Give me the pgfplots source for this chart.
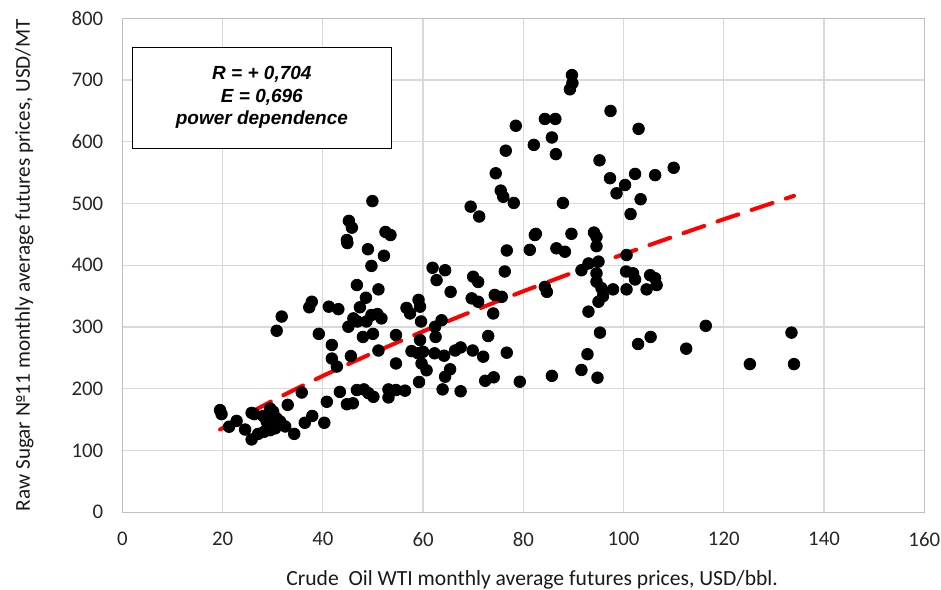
\documentclass[border=0pt]{standalone}
\usepackage{fontspec}
\setmainfont{Carlito}
\newfontfamily\arial{Liberation Sans}
\usepackage{pgfplots}
\pgfplotsset{compat=1.18}
\definecolor{gridgray}{HTML}{D9D9D9}
\definecolor{axgray}{HTML}{BFBFBF}

\begin{document}
\begin{tikzpicture}
\begin{axis}[
    scale only axis,
    width=401pt, height=247pt,
    xmin=0, xmax=160, ymin=0, ymax=800,
    xtick distance=20, ytick distance=100,
    grid=major,
    major grid style={gridgray, line width=0.6pt},
    axis line style={axgray, line width=0.6pt},
    major tick length=0pt,
    tick label style={font=\fontsize{10.4}{12}\selectfont, text=black!85},
    /pgf/number format/assume math mode=true,
    yticklabel style={xshift=-6pt},
    xticklabel style={yshift=-6.5pt},
    label style={text=black!90},
    xlabel={Crude\ \ Oil WTI monthly average futures prices, USD/bbl.},
    ylabel={Raw Sugar №11 monthly average futures prices, USD/MT},
    xlabel style={font=\fontsize{10.8}{12}\selectfont,
                  at={(axis description cs:0.511,-0.137)}, anchor=center},
    ylabel style={font=\fontsize{10.6}{12}\selectfont,
                  at={(axis description cs:-0.122,0.5)}, anchor=center},
]
% monthly points
\addplot[only marks, mark=*, mark size=2.9pt, black] table {
x y
19.5 165.5
19.8 159
21.3 138.6
22.8 148
24.5 134
25.8 118
25.8 161
26.3 159
27.1 127
28.3 130.5
29.5 133
29.5 168
30.1 163
28.1 156
28.8 147
30.8 152
31.5 147
31.8 142
32.5 139
30.5 136
34.3 127
33 174
35.8 194
36.4 145
37.9 156
40.3 145
40.8 179
30.8 294
31.8 317
37.8 341
37.3 332
41.2 333
43.1 329
39.2 289
41.8 271
41.8 249
42.8 236
45.6 253
43.4 195
44.8 175
46 176.5
46.8 198
48.2 199
49.1 193
50.1 187
53.1 199
54.6 198
56.4 197
53.1 186
45.1 300.5
46.1 314
46.9 309
48.7 309
49.7 319.5
50.9 321
51.7 314
47.4 332
48.6 347.5
46.8 368
51.1 361
48 284
50 289
51.1 262
49.9 504
45.2 472
45.8 461
44.8 441
44.9 436
52.5 454
53.5 449
49 426
52.2 415.5
49.7 399
54.6 287
54.6 241
56.7 331
59.1 344
59.4 333
57.4 322
59.6 309
59.4 279
57.7 261
59 257.5
60 260
59.7 241
60.7 230
59.2 211
61.9 396
62.7 376
62.5 284
62.3 257.5
63.9 199
63.7 311
62.4 300.5
64.4 392
65.5 357
64.2 253.6
66.4 262
67.5 267
65.4 231.6
64.4 219.6
67.5 196
70 381.5
71 373
69.7 346.5
71 341
74.3 352
75.7 349
74 322
73 285.5
69.9 262
72 252
76.7 258.5
72.4 213
74.1 218.6
79.3 211.5
76.3 390
76.7 424
81.3 425
82.3 449
89.7 708
89.8 695
89.3 685
84.3 637
86.4 637
78.5 626
85.7 607
82.1 595
86.5 580
76.5 585.6
74.5 549
75.5 521
76 511
78.1 501
87.9 501
69.5 495
71.2 479
82.5 451
89.6 451
94.1 453
94.6 446
94.6 431
95.2 570
97.4 650
103 621
97.3 541
110 558
102.3 548
106.3 546
100.3 530
98.6 516.6
103.4 507
101.4 483
86.6 427.5
88.3 422
93 403
95 406
91.6 392
94.6 387
94.6 373.5
95.6 363
97.9 361
95.9 350
95 341
93 325
100.5 390
101.9 387
102.3 377
100.6 361
100.6 416.7
105.3 384
106.3 379
106.6 368
104.6 361
84.3 365
84.7 357
95.3 291
102.9 272.5
105.4 284
92.8 256
91.6 230.5
94.8 218
85.7 221
112.5 265
116.4 302
125.2 240
133.5 291
134 240
};
% trend line (power)
\addplot[red, line width=2pt, dash pattern=on 11pt off 7pt, line cap=round] table {
x y
19.5 134
25 159.3
30 180.8
35 201.3
40 220.9
45 239.8
50 258
55 275.7
60 293
65 309.7
70 326
75 342.2
80 358
85 373.3
90 388.5
95 403.4
100 418
105 432.4
110 446.6
115 460.7
120 474.6
125 488.2
134 512.5
};
\node[draw=black, line width=0.6pt, fill=white, align=center,
      minimum width=129.7pt, minimum height=50.5pt, inner sep=0pt,
      font=\arial\bfseries\itshape\fontsize{9.5}{11.3}\selectfont]
  at (axis cs:27.85,671.5) {R = + 0,704\\E = 0,696\\power dependence};
\end{axis}
\pgfresetboundingbox
\path[use as bounding box] (-61.15pt,-38.35pt) rectangle (409.35pt,256.15pt);
\end{tikzpicture}
\end{document}
